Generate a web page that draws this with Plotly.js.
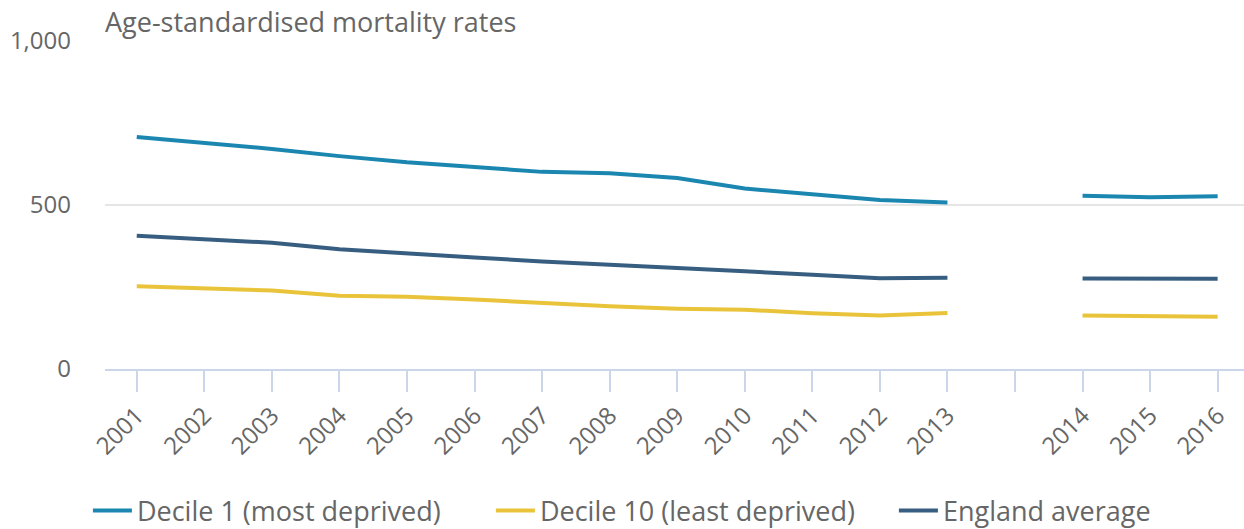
<!DOCTYPE html>
<html>
<head>
<meta charset="utf-8">
<script src="https://cdn.plot.ly/plotly-3.0.1.min.js"></script>
<style>
  html, body { margin: 0; padding: 0; background: #fff; }
  #chart { width: 1244px; height: 529px; }
</style>
</head>
<body>
<div id="chart"></div>
<script>
// Categories (a blank slot separates 2013 and 2014)
const years = ['2001','2002','2003','2004','2005','2006','2007','2008','2009','2010','2011','2012','2013',' ','2014','2015','2016'];

// Age-standardised mortality rates
const decile1 = [707, 689, 671, 649, 630, 616, 601, 597, 582, 550, 534, 515, 508, null, 528, 524, 527];
const decile10 = [252, 246, 239, 223, 220, 212, 201, 191, 184, 181, 170, 163, 171, null, 163, 161, 159];
const england = [406, 395, 385, 365, 354, 340, 328, 319, 307, 298, 287, 277, 278, null, 276, 276, 275];

const seriesNames = ['Decile 1 (most deprived)', 'Decile 10 (least deprived)', 'England average'];
const seriesColors = ['#1b87b1', '#e9c43a', '#375e80'];
const seriesValues = [decile1, decile10, england];

const tickVals = [0, 500, 1000];
const tickText = ['0', '500', '1,000'];
const chartTitle = 'Age-standardised mortality rates';

const font = '"Open Sans", "Noto Sans", sans-serif';

const traces = seriesValues.map((vals, i) => ({
  type: 'scatter',
  mode: 'lines',
  x: years,
  y: vals,
  name: seriesNames[i],
  connectgaps: false,
  line: { color: seriesColors[i], width: 4 },
  hoverinfo: 'skip'
}));

const layout = {
  width: 1244,
  height: 529,
  margin: { l: 105, r: 0, t: 41, b: 160, pad: 0, autoexpand: false },
  paper_bgcolor: '#ffffff',
  plot_bgcolor: '#ffffff',
  font: { family: font, color: '#666666', size: 22 },
  showlegend: true,
  legend: {
    orientation: 'h',
    x: -0.015,
    xanchor: 'left',
    y: -0.433,
    yanchor: 'middle',
    font: { family: font, size: 27, color: '#666666' },
    itemwidth: 39,
    entrywidth: 349,
    entrywidthmode: 'pixels',
    traceorder: 'normal'
  },
  xaxis: {
    type: 'category',
    categoryorder: 'array',
    categoryarray: years,
    range: [-0.47, 16.39],
    showgrid: false,
    zeroline: false,
    showline: true,
    linecolor: '#ccd6eb',
    linewidth: 2,
    ticks: 'outside',
    ticklen: 21,
    tickwidth: 2,
    tickcolor: '#ccd6eb',
    tickangle: -45,
    tickfont: { family: font, size: 24, color: '#666666' },
    fixedrange: true
  },
  yaxis: {
    range: [0, 1000],
    tickvals: tickVals,
    ticktext: tickText,
    showgrid: true,
    gridcolor: '#e6e6e6',
    gridwidth: 2,
    zeroline: false,
    showline: false,
    ticks: '',
    ticklabelstandoff: 33,
    tickfont: { family: font, size: 24, color: '#666666' },
    fixedrange: true
  },
  annotations: [{
    text: chartTitle,
    xref: 'paper', yref: 'paper',
    x: 0, y: 1.058,
    xanchor: 'left', yanchor: 'middle',
    xshift: -2,
    showarrow: false,
    font: { family: font, size: 27, color: '#666666' }
  }]
};

Plotly.newPlot('chart', traces, layout, { displayModeBar: false, staticPlot: true });
</script>
</body>
</html>
